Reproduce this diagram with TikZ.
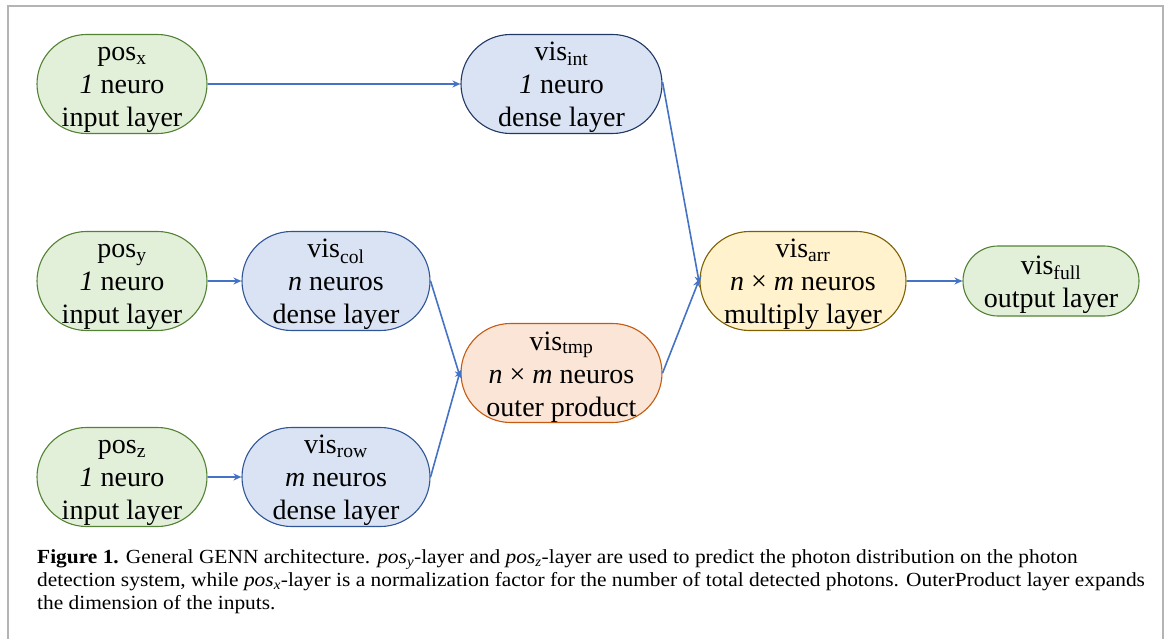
\documentclass[tikz,border=0pt]{standalone}
\usepackage{fontspec}
\setmainfont{Liberation Serif}
\newfontfamily\capfont[FakeStretch=1.07]{Liberation Serif}
\usetikzlibrary{arrows.meta}
\definecolor{gfill}{HTML}{E2EFD9}
\definecolor{gdraw}{HTML}{548235}
\definecolor{bfill}{HTML}{DAE3F3}
\definecolor{bdraw}{HTML}{2F5597}
\definecolor{ndraw}{HTML}{203864}
\definecolor{ofill}{HTML}{FBE5D6}
\definecolor{odraw}{HTML}{C55A11}
\definecolor{yfill}{HTML}{FFF2CC}
\definecolor{ydraw}{HTML}{7F6000}
\definecolor{arrc}{HTML}{4472C4}
\definecolor{framec}{HTML}{B4B4B4}
\newcommand{\fl}{\rule{0pt}{26pt}}
\tikzset{
  layer/.style={rectangle, rounded corners=49.5pt, inner sep=0pt, line width=1.1pt, align=center,
    font=\fontsize{28}{33}\selectfont, minimum height=99pt},
  green/.style={layer, fill=gfill, draw=gdraw},
  blue/.style={layer, fill=bfill, draw=bdraw},
  navy/.style={layer, fill=bfill, draw=ndraw},
  orange/.style={layer, fill=ofill, draw=odraw},
  yellow/.style={layer, fill=yfill, draw=ydraw},
  conn/.style={draw=arrc, line width=1.6pt, -{Stealth[length=8pt,width=7pt]}}
}
\begin{document}
\begin{tikzpicture}[x=1pt,y=-1pt]
\useasboundingbox (0,0) rectangle (1167,639);
\draw[framec, line width=1.5pt] (8,639) -- (8,6) -- (1163,6) -- (1163,639);

\node[green, minimum width=170pt] (posx) at (122,84) {\fl pos\textsubscript{x}\\\textit{1} neuro\\input layer};
\node[green, minimum width=170pt] (posy) at (122,281) {\fl pos\textsubscript{y}\\\textit{1} neuro\\input layer};
\node[green, minimum width=170pt] (posz) at (122,477) {\fl pos\textsubscript{z}\\\textit{1} neuro\\input layer};
\node[navy, minimum width=201pt] (visint) at (561.5,84) {\fl vis\textsubscript{int}\\\textit{1} neuro\\dense layer};
\node[blue, minimum width=188pt] (viscol) at (336,281) {\fl vis\textsubscript{col}\\\textit{n} neuros\\dense layer};
\node[blue, minimum width=188pt] (visrow) at (336,477) {\fl vis\textsubscript{row}\\\textit{m} neuros\\dense layer};
\node[orange, minimum width=201pt] (vistmp) at (561.5,373) {\fl vis\textsubscript{tmp}\\\textit{n} × \textit{m} neuros\\outer product};
\node[yellow, minimum width=206pt] (visarr) at (803,281) {\fl vis\textsubscript{arr}\\\textit{n} × \textit{m} neuros\\multiply layer};
\node[green, minimum width=176pt, minimum height=70pt, rounded corners=35pt] (visfull) at (1051,281) {\fl vis\textsubscript{full}\\output layer};

\draw[conn] (posx.east) -- (visint.west);
\draw[conn] (posy.east) -- (viscol.west);
\draw[conn] (posz.east) -- (visrow.west);
\draw[conn] (viscol.east) -- ([yshift=-5pt]vistmp.west);
\draw[conn] (visrow.east) -- ([yshift=3pt]vistmp.west);
\draw[conn] ([yshift=2pt]visint.east) -- ([yshift=-3pt]visarr.west);
\draw[conn] (vistmp.east) -- ([yshift=2pt]visarr.west);
\draw[conn] (visarr.east) -- (visfull.west);

\node[anchor=base west, align=left, inner sep=0pt,
  font=\capfont\fontsize{20}{23}\selectfont] (cap) at (37,609)
  {\textbf{Figure 1.} General GENN architecture. \textit{pos\textsubscript{y}}-layer and \textit{pos\textsubscript{z}}-layer are used to predict the photon distribution on the photon\\
  detection system, while \textit{pos\textsubscript{x}}-layer is a normalization factor for the number of total detected photons. OuterProduct layer expands\\
  the dimension of the inputs.};
\end{tikzpicture}
\end{document}
